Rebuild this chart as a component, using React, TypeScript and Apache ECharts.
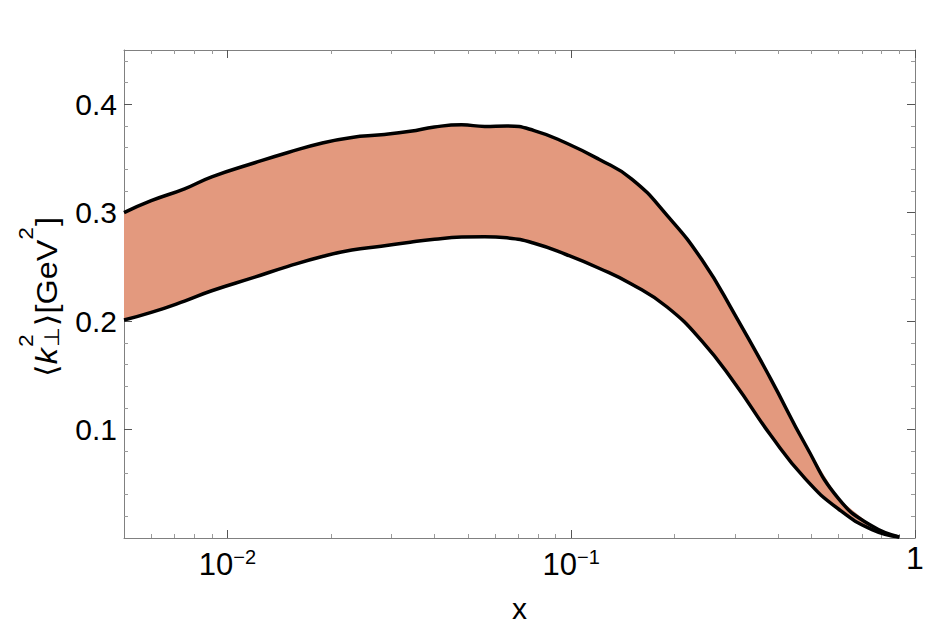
import { useEffect, useRef } from 'react';
import * as echarts from 'echarts';

// ---- data (x is Bjorken x, values in GeV^2) ----
const xValues = [0.005, 0.006, 0.0075, 0.009, 0.012, 0.015, 0.019, 0.023, 0.028, 0.034, 0.04, 0.048, 0.056, 0.065, 0.078, 0.097, 0.12, 0.15, 0.19, 0.24, 0.3, 0.38, 0.48, 0.6, 0.75, 0.9];
const upperValues = [0.300, 0.311, 0.322, 0.333, 0.346, 0.3555, 0.3645, 0.3694, 0.3718, 0.375, 0.379, 0.381, 0.3795, 0.380, 0.3757, 0.364, 0.3495, 0.331, 0.2975, 0.2565, 0.2054, 0.147, 0.086, 0.036, 0.011, 0.001];
const lowerValues = [0.201, 0.208, 0.2185, 0.228, 0.2405, 0.2505, 0.2598, 0.2655, 0.2690, 0.2728, 0.2755, 0.2775, 0.2779, 0.2768, 0.2718, 0.2612, 0.2490, 0.2340, 0.2130, 0.1815, 0.1420, 0.0950, 0.0545, 0.0265, 0.0078, 0.001];

// ---- axes ----
const xMin = 0.005;
const xMax = 1;
const xLabelTicks = [0.01, 0.1, 1];
const xMajorTicks = [0.01, 0.1, 1];
const xMinorTicks = [0.006, 0.007, 0.008, 0.009, 0.02, 0.03, 0.04, 0.05, 0.06, 0.07, 0.08, 0.09, 0.2, 0.3, 0.4, 0.5, 0.6, 0.7, 0.8, 0.9];
const yMin = 0;
const yMax = 0.45;
const yLabelTicks = [0.1, 0.2, 0.3, 0.4];
const yMajorTicks = [0.1, 0.2, 0.3, 0.4];
const yMinorTicks = [0.02, 0.04, 0.06, 0.08, 0.12, 0.14, 0.16, 0.18, 0.22, 0.24, 0.26, 0.28, 0.32, 0.34, 0.36, 0.38, 0.42, 0.44];

const FONT = '"Liberation Sans", Arial, Helvetica, "DejaVu Sans", sans-serif';
const AXIS_COLOR = '#808080';
const MAJOR_TICK = '#555555';
const MINOR_TICK = '#9a9a9a';
const FILL = '#E3997E';

const lg = (v: number) => Math.log10(v);

function xAxisCfg(position: string, ticks: number[], len: number, tickColor: string, main: boolean) {
  return {
    type: 'value',
    position,
    min: lg(xMin),
    max: lg(xMax),
    axisLine: { show: main, onZero: false, lineStyle: { color: AXIS_COLOR, width: 1 } },
    axisTick: { show: true, inside: true, length: len, customValues: ticks.map(lg), lineStyle: { color: tickColor, width: 1 } },
    axisLabel: { show: false },
    splitLine: { show: false },
  };
}

function yAxisCfg(position: string, ticks: number[], len: number, tickColor: string, main: boolean) {
  return {
    type: 'value',
    position,
    min: yMin,
    max: yMax,
    axisLine: { show: main, onZero: false, lineStyle: { color: AXIS_COLOR, width: 1 } },
    axisTick: { show: true, inside: true, length: len, customValues: ticks, lineStyle: { color: tickColor, width: 1 } },
    axisLabel: { show: false },
    splitLine: { show: false },
  };
}

function buildYName(): any[] {
  const canvas = document.createElement('canvas');
  const ctx = canvas.getContext('2d') as CanvasRenderingContext2D;
  const w = (t: string, size: number, italic = false) => {
    ctx.font = `${italic ? 'italic ' : ''}${size}px ${FONT}`;
    return ctx.measureText(t).width;
  };
  const M = 30;
  const S = 21;
  const SX = 1.08;
  const yMain = -11;
  const ySup = -32;
  const ySub = -6;
  const x0 = 0;
  const x1 = x0 + w('⟨', M);
  const x2 = x1 + w('k', M, true) + 1;
  const x3 = x2 + Math.max(w('2', S), w('⊥', S)) + 1;
  const x4 = x3 + w('⟩[GeV', M);
  const x5 = x4 + w('2', S) + 1;
  const total = (x5 + w(']', M)) * SX;
  const txt = (t: string, x: number, y: number, size: number, italic = false) => ({
    type: 'text',
    x,
    y,
    style: {
      text: t,
      fontSize: size,
      fontFamily: FONT,
      fontStyle: italic ? 'italic' : 'normal',
      fill: '#000',
      align: 'left',
      verticalAlign: 'middle',
    },
  });
  return [
    {
      type: 'group',
      x: 58,
      y: 297 + total / 2,
      rotation: Math.PI / 2,
      scaleX: SX,
      children: [
        txt('⟨', x0, yMain, M),
        txt('k', x1, yMain, M, true),
        txt('2', x2, ySup, S),
        txt('⊥', x2, ySub, S),
        txt('⟩[GeV', x3, yMain, M),
        txt('2', x4, ySup, S),
        txt(']', x5, yMain, M),
      ],
    },
  ];
}

export default function App() {
  const ref = useRef<HTMLDivElement>(null);
  useEffect(() => {
    if (!ref.current) return;
    const chart = echarts.init(ref.current, undefined, { renderer: 'svg' });
    const lowerData = xValues.map((x, i) => [lg(x), lowerValues[i]]);
    const upperData = xValues.map((x, i) => [lg(x), upperValues[i]]);
    const bandRows = xValues.map((x, i) => [lg(x), lowerValues[i], upperValues[i]]);

    const mainX: any = xAxisCfg('bottom', xMajorTicks, 8, MAJOR_TICK, true);
    mainX.axisLabel = {
      show: true,
      customValues: xLabelTicks.map(lg),
      margin: 9,
      color: '#000',
      fontFamily: FONT,
      formatter: (v: number) => {
        const e = Math.round(v);
        if (e === 0) return '{one|1}';
        return '{b|10}{s|−' + -e + '}';
      },
      rich: {
        b: { fontSize: 31, lineHeight: 34, fontFamily: FONT, color: '#000' },
        s: { fontSize: 20, lineHeight: 20, verticalAlign: 'top', fontFamily: FONT, color: '#000' },
        one: { fontSize: 32, lineHeight: 22, fontFamily: FONT, color: '#000' },
      },
    };
    mainX.name = 'x';
    mainX.nameLocation = 'middle';
    mainX.nameGap = 55;
    mainX.nameTextStyle = { fontSize: 30, fontFamily: FONT, color: '#000' };

    const mainY: any = yAxisCfg('left', yMajorTicks, 8, MAJOR_TICK, true);
    mainY.axisLabel = {
      show: true,
      customValues: yLabelTicks,
      margin: 7,
      color: '#000',
      fontSize: 30,
      fontFamily: FONT,
      formatter: (v: number) => v.toFixed(1),
    };

    const option: any = {
      animation: false,
      backgroundColor: '#ffffff',
      grid: { left: 124, right: 23, top: 50, bottom: 87, containLabel: false, outerBoundsMode: 'none' },
      xAxis: [
        mainX,
        xAxisCfg('bottom', xMinorTicks, 4, MINOR_TICK, false),
        xAxisCfg('top', xMajorTicks, 8, MAJOR_TICK, true),
        xAxisCfg('top', xMinorTicks, 4, MINOR_TICK, false),
      ],
      yAxis: [
        mainY,
        yAxisCfg('left', yMinorTicks, 4, MINOR_TICK, false),
        yAxisCfg('right', yMajorTicks, 8, MAJOR_TICK, true),
        yAxisCfg('right', yMinorTicks, 4, MINOR_TICK, false),
      ],
      series: [
        {
          type: 'custom',
          name: 'band',
          xAxisIndex: 0,
          yAxisIndex: 0,
          data: bandRows,
          clip: true,
          z: 2,
          renderItem: (params: any, api: any) => {
            if (params.dataIndex !== 0) return null;
            const pts = [
              ...upperData.map((p) => api.coord(p)),
              ...lowerData.slice().reverse().map((p) => api.coord(p)),
            ];
            return { type: 'polygon', shape: { points: pts }, style: { fill: FILL, stroke: 'none' } };
          },
        },
        {
          type: 'line',
          name: 'upper',
          xAxisIndex: 0,
          yAxisIndex: 0,
          data: upperData,
          symbol: 'none',
          smooth: 0.5,
          lineStyle: { color: '#000', width: 3.5 },
          z: 4,
        },
        {
          type: 'line',
          name: 'lower',
          xAxisIndex: 0,
          yAxisIndex: 0,
          data: lowerData,
          symbol: 'none',
          smooth: 0.5,
          lineStyle: { color: '#000', width: 3.5 },
          z: 4,
        },
      ],
      graphic: buildYName(),
    };
    chart.setOption(option);
    return () => chart.dispose();
  }, []);
  return <div ref={ref} style={{ position: 'absolute', left: 0, top: 0, width: 938, height: 625 }} />;
}
